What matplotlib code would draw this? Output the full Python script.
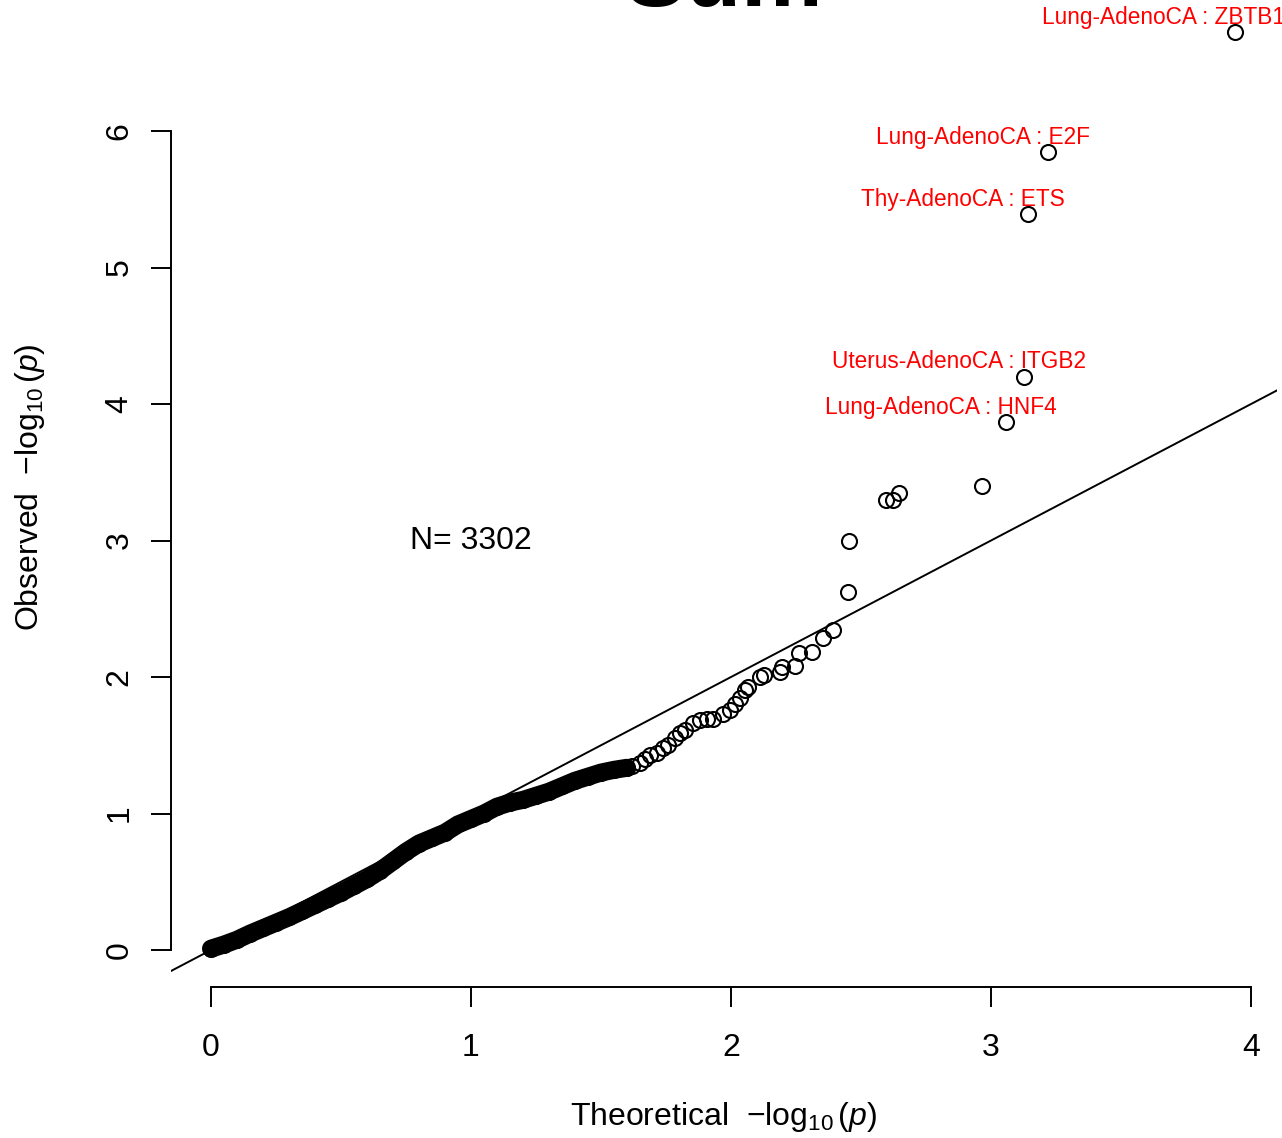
import matplotlib
matplotlib.use('Agg')
import matplotlib.pyplot as plt

plt.rcParams['font.family'] = ['Liberation Sans', 'DejaVu Sans']
plt.rcParams['mathtext.fontset'] = 'custom'
plt.rcParams['mathtext.rm'] = 'Liberation Sans'
plt.rcParams['mathtext.it'] = 'Liberation Sans:italic'

n_tests = 3302

# bulk of the tests: expected vs observed -log10(p), so packed they form a solid band
band_expected = [0.00, 0.05, 0.10, 0.15, 0.20, 0.25, 0.30, 0.35, 0.40, 0.45,
                 0.50, 0.55, 0.60, 0.65, 0.70, 0.75, 0.80, 0.85, 0.90, 0.95,
                 1.00, 1.05, 1.10, 1.15, 1.20, 1.25, 1.30, 1.35, 1.40, 1.45,
                 1.50, 1.55, 1.60]
band_observed = [0.01, 0.04, 0.075, 0.12, 0.16, 0.20, 0.24, 0.285, 0.33, 0.375,
                 0.42, 0.47, 0.52, 0.58, 0.65, 0.72, 0.78, 0.82, 0.86, 0.92,
                 0.96, 1.00, 1.05, 1.08, 1.10, 1.13, 1.16, 1.20, 1.24, 1.27,
                 1.30, 1.32, 1.335]

# upper tail, points separate from each other
tail_expected = [1.62, 1.65, 1.67, 1.69, 1.715, 1.738, 1.758, 1.785, 1.804,
                 1.823, 1.854, 1.881, 1.908, 1.931, 1.969, 1.996, 2.015, 2.035, 2.054,
                 2.065, 2.112, 2.127, 2.188, 2.196, 2.246, 2.262, 2.312, 2.354, 2.392,
                 2.450, 2.454, 2.596, 2.623, 2.646, 2.965]
tail_observed = [1.35, 1.37, 1.40, 1.43, 1.445, 1.48, 1.502, 1.553, 1.59,
                 1.612, 1.663, 1.685, 1.69, 1.695, 1.729, 1.758, 1.802, 1.846, 1.905,
                 1.927, 2.000, 2.015, 2.037, 2.073, 2.081, 2.176, 2.183, 2.286, 2.344,
                 2.623, 2.996, 3.297, 3.297, 3.348, 3.399]

# named top hits
hit_labels = ['Lung-AdenoCA : HNF4', 'Uterus-AdenoCA : ITGB2', 'Thy-AdenoCA : ETS',
              'Lung-AdenoCA : E2F', 'Lung-AdenoCA : ZBTB14']
hit_expected = [3.058, 3.127, 3.142, 3.219, 3.938]
hit_observed = [3.868, 4.198, 5.392, 5.846, 6.725]

fig = plt.figure(figsize=(12.82, 11.38), dpi=100)
ax = fig.add_axes([171 / 1282, 151 / 1138, 1106 / 1282, 999 / 1138])
ax.set_xlim(-0.1538, 4.1)
ax.set_ylim(-0.271, 7.048)

# y = x reference
ax.axline((0, 0), slope=1, color='black', lw=1.4, zorder=1)

mk = dict(marker='o', ms=10.8, mfc='none', mec='black', mew=1.5, ls='none', zorder=3)
ax.plot(band_expected, band_observed, color='black', lw=13,
        solid_capstyle='round', solid_joinstyle='round', zorder=2)
ax.plot(band_expected, band_observed, **mk)
ax.plot(tail_expected, tail_observed, **mk)
ax.plot(hit_expected, hit_observed, **mk)

for lab, x, y in zip(hit_labels, hit_expected, hit_observed):
    ax.text(x - 0.25, y + 0.11, lab, color='red', fontsize=16.3,
            ha='center', va='center', clip_on=False)

ax.text(1, 3, f'N= {n_tests}', fontsize=23, ha='center', va='center')

for side in ['top', 'right']:
    ax.spines[side].set_visible(False)
ax.spines['left'].set_bounds(0, 6)
ax.spines['bottom'].set_bounds(0, 4)
for side in ['left', 'bottom']:
    ax.spines[side].set_linewidth(1.4)

ax.set_xticks(range(0, 5))
ax.set_yticks(range(0, 7))
ax.tick_params(direction='out', length=14.4, width=1.4, labelsize=23)
ax.tick_params(axis='x', pad=18.5)
ax.tick_params(axis='y', pad=12, labelrotation=90)
for t in ax.get_yticklabels():
    t.set_va('center')

ax.set_xlabel(r'Theoretical  $-\log_{10}(p)$', fontsize=23, labelpad=26.5)
ax.set_ylabel(r'Observed  $-\log_{10}(p)$', fontsize=23, labelpad=41)

fig.text(724 / 1282, 1132 / 1138, 'Sum', fontsize=66, fontweight='bold',
         ha='center', va='baseline')

fig.savefig('out.png', dpi=100)
